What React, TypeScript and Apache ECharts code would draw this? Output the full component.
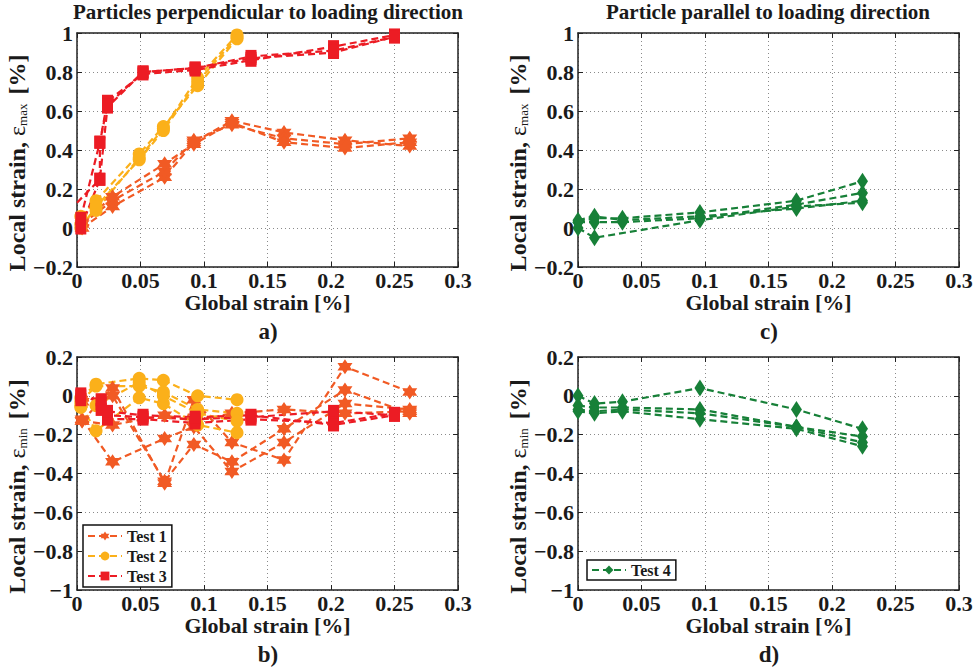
import React, { useEffect, useRef } from "react";
import * as echarts from "echarts";

// ---------- data ----------
const xTicks = [0, 0.05, 0.1, 0.15, 0.2, 0.25, 0.3];

// Panel a (eps_max, perpendicular)
const xT1max = [0.004, 0.028, 0.069, 0.092, 0.122, 0.163, 0.211, 0.262];
const t1MaxP1 = [0.0, 0.11, 0.26, 0.44, 0.55, 0.49, 0.45, 0.42];
const t1MaxP2 = [0.02, 0.14, 0.29, 0.45, 0.53, 0.46, 0.43, 0.46];
const t1MaxP3 = [0.03, 0.16, 0.33, 0.43, 0.54, 0.44, 0.41, 0.44];

const xT2max = [0.003, 0.015, 0.049, 0.068, 0.095, 0.126];
const t2MaxP1 = [0.02, 0.09, 0.36, 0.51, 0.77, 0.99];
const t2MaxP2 = [0.06, 0.14, 0.38, 0.52, 0.73, 0.97];
const t2MaxP3 = [0.0, 0.11, 0.35, 0.5, 0.75, 0.98];

const xT3max = [0.003, 0.018, 0.024, 0.052, 0.093, 0.137, 0.202, 0.25];
const t3MaxP1 = [0.0, 0.25, 0.62, 0.8, 0.82, 0.87, 0.9, 0.98];
const t3MaxP2 = [0.05, 0.44, 0.65, 0.79, 0.81, 0.86, 0.93, 0.99];
const xT3maxP3 = [0.0, 0.018, 0.018, 0.024, 0.052, 0.093, 0.137, 0.202, 0.25];
const t3MaxP3 = [0.13, 0.25, 0.44, 0.63, 0.8, 0.82, 0.88, 0.91, 0.98];

// Panel b (eps_min, perpendicular)
const xT1min = [0.004, 0.028, 0.069, 0.092, 0.122, 0.163, 0.211, 0.262];
const t1MinP1 = [-0.12, -0.34, -0.22, -0.16, -0.39, -0.24, -0.04, -0.07];
const t1MinP2 = [-0.13, 0.04, -0.45, -0.02, -0.24, -0.33, 0.15, 0.02];
const t1MinP3 = [-0.03, 0.0, -0.44, -0.25, -0.34, -0.17, 0.03, -0.09];
const t1MinP4 = [-0.13, -0.15, -0.1, -0.13, -0.09, -0.07, -0.09, -0.08];

const xT2min = [0.003, 0.015, 0.049, 0.068, 0.095, 0.126];
const t2MinP1 = [-0.01, 0.06, 0.09, 0.08, 0.0, -0.02];
const t2MinP2 = [-0.03, 0.05, 0.05, 0.02, -0.07, -0.09];
const t2MinP3 = [-0.05, -0.18, -0.01, -0.04, -0.15, -0.19];
const t2MinP4 = [-0.06, -0.05, 0.07, 0.0, -0.09, -0.13];

const xT3min = [0.003, 0.019, 0.024, 0.052, 0.093, 0.137, 0.202, 0.25];
const t3MinP1 = [0.0, -0.02, -0.1, -0.11, -0.12, -0.11, -0.08, -0.1];
const t3MinP2 = [-0.02, -0.07, -0.12, -0.12, -0.14, -0.12, -0.14, -0.09];
const t3MinP3 = [0.01, -0.04, -0.08, -0.1, -0.11, -0.1, -0.15, -0.1];

// Panel c (eps_max, parallel)
const xT4 = [0.0, 0.013, 0.035, 0.096, 0.172, 0.224];
const xT4skip = [0.0, 0.013, 0.096, 0.172, 0.224];
const t4MaxP1 = [0.03, 0.05, 0.05, 0.08, 0.14, 0.24];
const t4MaxP2 = [0.0, -0.05, 0.04, 0.11, 0.13];
const t4MaxP3 = [0.03, 0.03, 0.03, 0.05, 0.12, 0.18];
const t4MaxP4 = [0.04, 0.06, 0.04, 0.06, 0.1, 0.14];

// Panel d (eps_min, parallel)
const t4MinP1 = [0.0, -0.04, -0.03, 0.04, -0.07, -0.17];
const t4MinP2 = [-0.05, -0.06, -0.06, -0.07, -0.16, -0.21];
const t4MinP3 = [-0.07, -0.08, -0.07, -0.09, -0.16, -0.24];
const t4MinP4 = [-0.08, -0.09, -0.08, -0.12, -0.17, -0.26];

// ---------- styling ----------
const C1 = "#F15A24";
const C2 = "#FBB01A";
const C3 = "#EC1C24";
const C4 = "#178038";
const FONT = "Liberation Serif";
const INK = "#1a1a1a";

function hexagram(): string {
  let d = "";
  for (let i = 0; i < 12; i++) {
    const r = i % 2 === 0 ? 1 : 0.5774;
    const a = -Math.PI / 2 + (i * Math.PI) / 6;
    d += (i ? "L" : "M") + (r * Math.cos(a)).toFixed(3) + " " + (r * Math.sin(a)).toFixed(3) + " ";
  }
  return "path://" + d + "Z";
}
const STAR = hexagram();

const grids = [
  { left: 77, top: 33, width: 381, height: 234 },
  { left: 77, top: 357, width: 381, height: 233 },
  { left: 578, top: 33, width: 381, height: 234 },
  { left: 578, top: 357, width: 381, height: 233 },
];

function fmt(v: number): string {
  const r = Math.round(v * 100) / 100;
  return (r < 0 ? "\u2212" : "") + String(Math.abs(r));
}

export default function App() {
  const ref = useRef<HTMLDivElement>(null);
  useEffect(() => {
    if (!ref.current) return;
    const chart = echarts.init(ref.current, undefined, { renderer: "svg" });

    const mk = (
      name: string,
      color: string,
      symbol: string,
      size: number | number[],
      gi: number,
      xs: number[],
      ys: number[],
      hideFirst = false
    ) => ({
      type: "line",
      name,
      xAxisIndex: gi,
      yAxisIndex: gi,
      data: xs.map((x, i) =>
        hideFirst && i === 0 ? { value: [x, ys[i]], symbol: "none" } : [x, ys[i]]
      ),
      symbol,
      symbolSize: size,
      showAllSymbol: true,
      lineStyle: { type: [7, 4], width: 2.2, color },
      itemStyle: { color },
      emphasis: { disabled: true },
    });

    const SQ = [11, 13];
    const DI = [11, 17];
    const series: any[] = [
      // a
      mk("Test 1", C1, STAR, 15, 0, xT1max, t1MaxP1),
      mk("Test 1", C1, STAR, 15, 0, xT1max, t1MaxP2),
      mk("Test 1", C1, STAR, 15, 0, xT1max, t1MaxP3),
      mk("Test 2", C2, "circle", 13, 0, xT2max, t2MaxP1),
      mk("Test 2", C2, "circle", 13, 0, xT2max, t2MaxP2),
      mk("Test 2", C2, "circle", 13, 0, xT2max, t2MaxP3),
      mk("Test 3", C3, "rect", SQ, 0, xT3max, t3MaxP1),
      mk("Test 3", C3, "rect", SQ, 0, xT3max, t3MaxP2),
      mk("Test 3", C3, "rect", SQ, 0, xT3maxP3, t3MaxP3, true),
      // b
      mk("Test 1", C1, STAR, 15, 1, xT1min, t1MinP1),
      mk("Test 1", C1, STAR, 15, 1, xT1min, t1MinP2),
      mk("Test 1", C1, STAR, 15, 1, xT1min, t1MinP3),
      mk("Test 1", C1, STAR, 15, 1, xT1min, t1MinP4),
      mk("Test 2", C2, "circle", 13, 1, xT2min, t2MinP1),
      mk("Test 2", C2, "circle", 13, 1, xT2min, t2MinP2),
      mk("Test 2", C2, "circle", 13, 1, xT2min, t2MinP3),
      mk("Test 2", C2, "circle", 13, 1, xT2min, t2MinP4),
      mk("Test 3", C3, "rect", SQ, 1, xT3min, t3MinP1),
      mk("Test 3", C3, "rect", SQ, 1, xT3min, t3MinP2),
      mk("Test 3", C3, "rect", SQ, 1, xT3min, t3MinP3),
      // c
      mk("Test 4", C4, "diamond", DI, 2, xT4, t4MaxP1),
      mk("Test 4", C4, "diamond", DI, 2, xT4skip, t4MaxP2),
      mk("Test 4", C4, "diamond", DI, 2, xT4, t4MaxP3),
      mk("Test 4", C4, "diamond", DI, 2, xT4, t4MaxP4),
      // d
      mk("Test 4", C4, "diamond", DI, 3, xT4, t4MinP1),
      mk("Test 4", C4, "diamond", DI, 3, xT4, t4MinP2),
      mk("Test 4", C4, "diamond", DI, 3, xT4, t4MinP3),
      mk("Test 4", C4, "diamond", DI, 3, xT4, t4MinP4),
    ];

    const tickLabel = { fontFamily: FONT, fontWeight: "bold", fontSize: 22, color: INK };
    const splitLine = { show: true, lineStyle: { color: "#8a8a8a", type: [1, 3], width: 1 } };
    const boxLine = { show: true, onZero: false, lineStyle: { color: "#222", width: 1.5 } };
    const tick = { show: true, inside: true, length: 5, lineStyle: { color: "#222" } };

    const xAxes: any[] = [];
    const yAxes: any[] = [];
    grids.forEach((g, gi) => {
      xAxes.push({
        type: "value",
        gridIndex: gi,
        min: 0,
        max: 0.3,
        interval: 0.05,
        position: "bottom",
        name: "Global strain [%]",
        nameLocation: "middle",
        nameGap: 23,
        nameTextStyle: { fontFamily: FONT, fontWeight: "bold", fontSize: 22, color: INK },
        axisLine: boxLine,
        axisTick: tick,
        axisLabel: { ...tickLabel, margin: 2, formatter: (v: number) => fmt(v) },
        splitLine,
      });
    });
    grids.forEach((g, gi) => {
      xAxes.push({
        type: "value",
        gridIndex: gi,
        min: 0,
        max: 0.3,
        interval: 0.05,
        position: "top",
        axisLine: boxLine,
        axisTick: tick,
        axisLabel: { show: false },
        splitLine: { show: false },
      });
    });
    grids.forEach((g, gi) => {
      const top = gi % 2 === 0;
      yAxes.push({
        type: "value",
        gridIndex: gi,
        min: top ? -0.2 : -1,
        max: top ? 1 : 0.2,
        interval: 0.2,
        position: "left",
        name: top
          ? "{t|Local strain, }{e|\u03b5}{s|max}{t| [%]}"
          : "{t|Local strain, }{e|\u03b5}{s|min}{t| [%]}",
        nameLocation: "middle",
        nameRotate: 90,
        nameGap: 47,
        nameTextStyle: {
          padding: [0, 26, 0, 0],
          rich: {
            t: { fontFamily: FONT, fontWeight: "bold", fontSize: 24, color: INK },
            e: { fontFamily: FONT, fontSize: 24, color: INK },
            s: { fontFamily: FONT, fontSize: 13, color: INK, verticalAlign: "bottom", padding: [10, 3, 0, 0] },
          },
        },
        axisLine: boxLine,
        axisTick: tick,
        axisLabel: { ...tickLabel, margin: 4, formatter: (v: number) => fmt(v) },
        splitLine,
      });
    });
    grids.forEach((g, gi) => {
      const top = gi % 2 === 0;
      yAxes.push({
        type: "value",
        gridIndex: gi,
        min: top ? -0.2 : -1,
        max: top ? 1 : 0.2,
        interval: 0.2,
        position: "right",
        axisLine: boxLine,
        axisTick: tick,
        axisLabel: { show: false },
        splitLine: { show: false },
      });
    });

    const legendText = { fontFamily: FONT, fontWeight: "bold", fontSize: 16, color: INK };

    const labelStyle = (text: string, x: number, y: number) => ({
      type: "text",
      style: { text, x, y, align: "center", verticalAlign: "middle", font: `bold 23px "${FONT}"`, fill: INK },
    });

    chart.setOption({
      animation: false,
      backgroundColor: "#ffffff",
      grid: grids.map((g) => ({ ...g, containLabel: false })),
      xAxis: xAxes,
      yAxis: yAxes,
      legend: [
        {
          data: ["Test 1", "Test 2", "Test 3"],
          orient: "vertical",
          left: 83,
          top: 525,
          itemWidth: 34,
          itemHeight: 11,
          itemGap: 4,
          padding: [3, 5, 3, 4],
          borderColor: "#111",
          borderWidth: 1.5,
          backgroundColor: "#fff",
          textStyle: legendText,
          selectedMode: false,
        },
        {
          data: ["Test 4"],
          orient: "vertical",
          left: 587,
          top: 560,
          itemWidth: 34,
          itemHeight: 11,
          padding: [2, 5, 2, 4],
          borderColor: "#111",
          borderWidth: 1.5,
          backgroundColor: "#fff",
          textStyle: legendText,
          selectedMode: false,
        },
      ],
      graphic: [
        {
          type: "text",
          style: {
            text: "Particles perpendicular to loading direction",
            x: 268,
            y: 1,
            align: "center",
            verticalAlign: "top",
            font: `bold 21px "${FONT}"`,
            fill: INK,
          },
        },
        {
          type: "text",
          style: {
            text: "Particle parallel to loading direction",
            x: 768,
            y: 1,
            align: "center",
            verticalAlign: "top",
            font: `bold 21px "${FONT}"`,
            fill: INK,
          },
        },
        labelStyle("a)", 268, 331),
        labelStyle("b)", 268, 654),
        labelStyle("c)", 769, 331),
        labelStyle("d)", 769, 654),
      ],
      series,
    });
    return () => chart.dispose();
  }, []);

  return (
    <div
      ref={ref}
      style={{ position: "fixed", left: 0, top: 0, width: 978, height: 672, background: "#fff" }}
    />
  );
}
